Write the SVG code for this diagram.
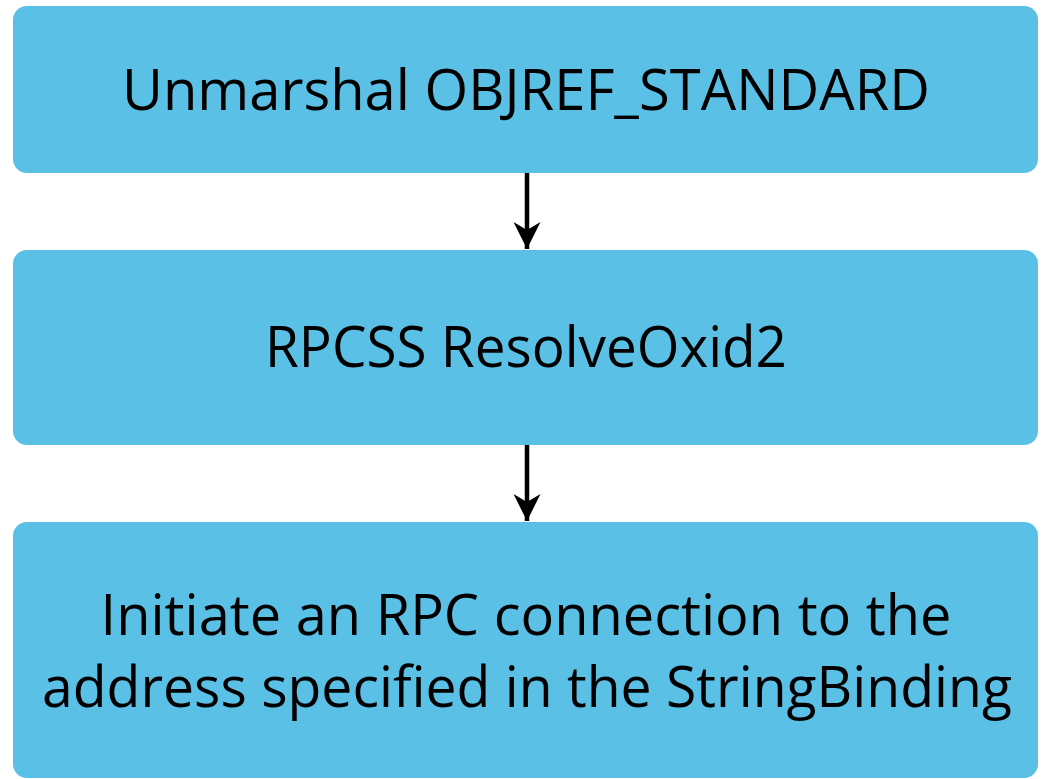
<svg xmlns="http://www.w3.org/2000/svg" width="1042" height="779" viewBox="0 0 1042 779">
  <style>
    .box { fill: #5BC0E6; }
    .lbl { font-family: "Open Sans", "Noto Sans", "Liberation Sans", sans-serif; font-size: 56px; fill: #000; text-anchor: middle; }
    .conn { stroke: #000; stroke-width: 4.5; fill: none; }
  </style>
  <defs>
    <marker id="arr" markerUnits="userSpaceOnUse" markerWidth="30" markerHeight="30" refX="27" refY="13.5" orient="auto" viewBox="0 0 30 27">
      <path d="M0,0 L27,13.5 L0,27 L8,13.5 Z" fill="#000"/>
    </marker>
  </defs>
  <rect width="1042" height="779" fill="#fff"/>
  <g id="node1">
    <rect class="box" x="13" y="6" width="1025" height="167" rx="14"/>
    <text class="lbl" x="526" y="110" textLength="808" lengthAdjust="spacingAndGlyphs">Unmarshal OBJREF_STANDARD</text>
  </g>
  <g id="node2">
    <rect class="box" x="13" y="250" width="1025" height="195" rx="14"/>
    <text class="lbl" x="526" y="367" textLength="522" lengthAdjust="spacingAndGlyphs">RPCSS ResolveOxid2</text>
  </g>
  <g id="node3">
    <rect class="box" x="13" y="522" width="1025" height="256" rx="14"/>
    <text class="lbl" x="526" y="635" textLength="851" lengthAdjust="spacingAndGlyphs">Initiate an RPC connection to the</text>
    <text class="lbl" x="527" y="707" textLength="970" lengthAdjust="spacingAndGlyphs">address specified in the StringBinding</text>
  </g>
  <g id="connectors">
    <line class="conn" x1="527" y1="173" x2="527" y2="249" marker-end="url(#arr)"/>
    <line class="conn" x1="527" y1="445" x2="527" y2="521" marker-end="url(#arr)"/>
  </g>
</svg>
